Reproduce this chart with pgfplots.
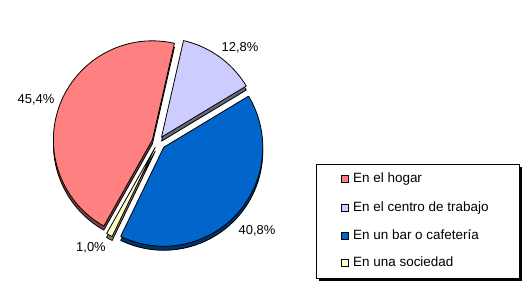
\documentclass[border=0pt]{standalone}
\usepackage{pgfplots}
\pgfplotsset{compat=1.18}
\usepackage{pgfplotstable}
\usepackage{fontspec}
\setmainfont{Liberation Sans}

\definecolor{cHogar}{HTML}{FF8080}
\definecolor{cHogarS}{HTML}{804040}
\definecolor{cTrab}{HTML}{CCCCFF}
\definecolor{cTrabS}{HTML}{666680}
\definecolor{cBar}{HTML}{0066CC}
\definecolor{cBarS}{HTML}{003366}
\definecolor{cSoc}{HTML}{FFFFCC}
\definecolor{cSocS}{HTML}{808066}

\pgfplotstableread{
cat value
1 45.4
2 12.8
3 40.8
4 1.0
}\piedata

\pgfplotstablegetelem{0}{value}\of\piedata\let\vA\pgfplotsretval
\pgfplotstablegetelem{1}{value}\of\piedata\let\vB\pgfplotsretval
\pgfplotstablegetelem{2}{value}\of\piedata\let\vC\pgfplotsretval
\pgfplotstablegetelem{3}{value}\of\piedata\let\vD\pgfplotsretval

\def\cx{158}\def\cy{146}\def\rad{99}\def\dep{4}\def\ex{6}
\pgfmathsetmacro\sA{240.6}
\pgfmathsetmacro\eA{\sA-3.6*\vA}
\pgfmathsetmacro\eB{\eA-3.6*\vB}
\pgfmathsetmacro\eC{\eB-3.6*\vC}
\pgfmathsetmacro\eD{\eC-3.6*\vD}
\let\sB\eA \let\sC\eB \let\sD\eC
\pgfmathsetmacro\xA{\cx+\ex*cos((\sA+\eA)/2)}
\pgfmathsetmacro\yA{\cy+\ex*sin((\sA+\eA)/2)}
\pgfmathsetmacro\xB{\cx+\ex*cos((\sB+\eB)/2)}
\pgfmathsetmacro\yB{\cy+\ex*sin((\sB+\eB)/2)}
\pgfmathsetmacro\xC{\cx+1.3*\ex*cos((\sC+\eC)/2)}
\pgfmathsetmacro\yC{\cy+1.3*\ex*sin((\sC+\eC)/2)}
\pgfmathsetmacro\xD{\cx+\ex*cos((\sD+\eD)/2)}
\pgfmathsetmacro\yD{\cy+\ex*sin((\sD+\eD)/2)}
\pgfmathsetmacro\yAd{\yA-\dep}
\pgfmathsetmacro\yBd{\yB-\dep}
\pgfmathsetmacro\yCd{\yC-\dep}
\pgfmathsetmacro\yDd{\yD-\dep}

\newcommand\slicepath[4]{(axis cs:#1,#2) -- ++(#3:\rad bp) arc[start angle=#3, end angle=#4, radius=\rad bp] -- cycle}
\newcommand\pct[1]{\pgfmathprintnumber[fixed,fixed zerofill,precision=1,use comma,assume math mode=true]{#1}\%}

\begin{document}
\begin{tikzpicture}
\useasboundingbox (0,0) rectangle (530bp,288bp);
\begin{axis}[
  at={(0,0)}, anchor=south west,
  x=1bp, y=1bp,
  xmin=0, xmax=530, ymin=0, ymax=288,
  hide axis, clip=false,
]
% sides (depth)
\filldraw[fill=cHogarS, draw=black, line width=0.8bp, line join=round] \slicepath{\xA}{\yAd}{\eA}{\sA};
\filldraw[fill=cTrabS, draw=black, line width=0.8bp, line join=round] \slicepath{\xB}{\yBd}{\eB}{\sB};
\filldraw[fill=cBarS, draw=black, line width=0.8bp, line join=round] \slicepath{\xC}{\yCd}{\eC}{\sC};
\filldraw[fill=cSocS, draw=black, line width=0.8bp, line join=round] \slicepath{\xD}{\yDd}{\eD}{\sD};
% faces
\filldraw[fill=cHogar, draw=black, line width=0.8bp, line join=round] \slicepath{\xA}{\yA}{\eA}{\sA};
\filldraw[fill=cTrab, draw=black, line width=0.8bp, line join=round] \slicepath{\xB}{\yB}{\eB}{\sB};
\filldraw[fill=cBar, draw=black, line width=0.8bp, line join=round] \slicepath{\xC}{\yC}{\eC}{\sC};
\filldraw[fill=cSoc, draw=black, line width=0.8bp, line join=round] \slicepath{\xD}{\yD}{\eD}{\sD};
% percentage labels
\node[font=\fontsize{13}{15}\selectfont, inner sep=0pt] at (axis cs:36,188) {\pct{\vA}};
\node[font=\fontsize{13}{15}\selectfont, inner sep=0pt] at (axis cs:240,240.5) {\pct{\vB}};
\node[font=\fontsize{13}{15}\selectfont, inner sep=0pt] at (axis cs:257,57) {\pct{\vC}};
\node[font=\fontsize{13}{15}\selectfont, inner sep=0pt] at (axis cs:91,40) {\pct{\vD}};
% legend
\fill[black] (axis cs:319,7) rectangle (axis cs:522,121);
\filldraw[fill=white, draw=black, line width=0.8bp] (axis cs:316,10) rectangle (axis cs:519,124);
\filldraw[fill=cHogar, draw=black, line width=0.6bp] (axis cs:341,105.5) rectangle (axis cs:348,112.5);
\filldraw[fill=cTrab, draw=black, line width=0.6bp] (axis cs:341,77) rectangle (axis cs:348,84);
\filldraw[fill=cBar, draw=black, line width=0.6bp] (axis cs:341,48.8) rectangle (axis cs:348,55.8);
\filldraw[fill=cSoc, draw=black, line width=0.6bp] (axis cs:341,21.5) rectangle (axis cs:348,28.5);
\node[font=\fontsize{13.5}{15}\selectfont, inner sep=0pt, anchor=base west] at (axis cs:353,105.2) {En el hogar};
\node[font=\fontsize{13.5}{15}\selectfont, inner sep=0pt, anchor=base west] at (axis cs:353,76.8) {En el centro de trabajo};
\node[font=\fontsize{13.5}{15}\selectfont, inner sep=0pt, anchor=base west] at (axis cs:353,48.5) {En un bar o cafetería};
\node[font=\fontsize{13.5}{15}\selectfont, inner sep=0pt, anchor=base west] at (axis cs:353,21.2) {En una sociedad};
\end{axis}
\end{tikzpicture}
\end{document}
